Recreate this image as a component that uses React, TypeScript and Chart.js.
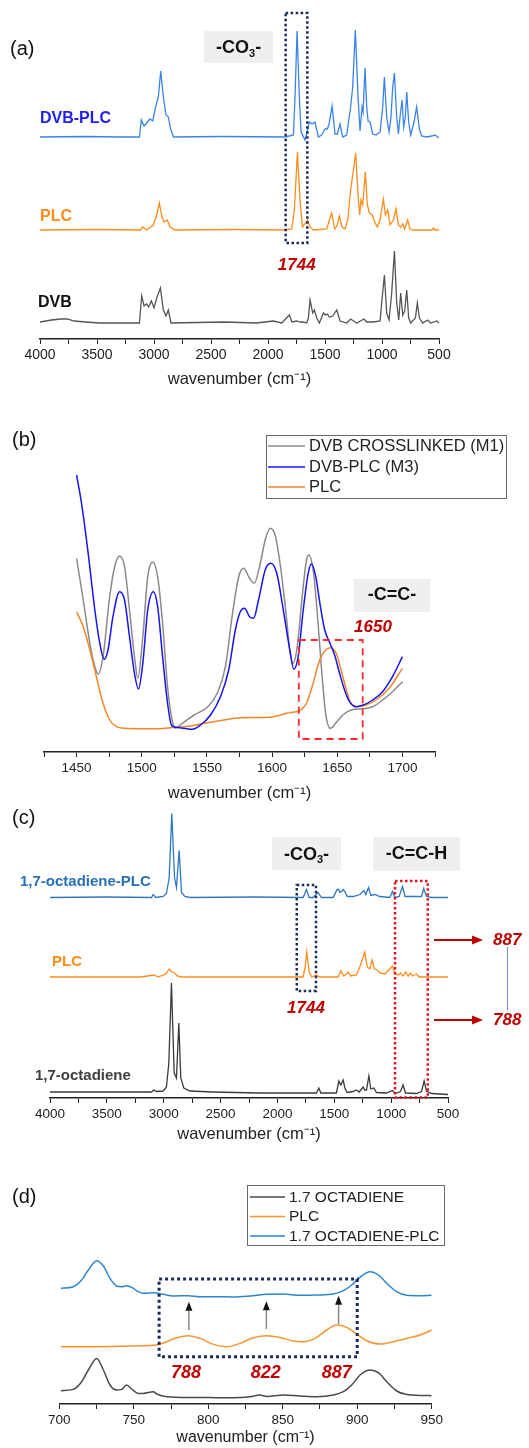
import React, { useEffect, useRef } from 'react';
import { Chart, registerables } from 'chart.js';

Chart.register(...registerables);

const FONT = '"Liberation Sans", Arial, Helvetica, sans-serif';
const AXIS_TITLE = 'wavenumber (cm\u207B\u00B9)';

type Pt = [number, number];

// ---------------- Panel (a): wavenumber, intensity above baseline (a.u.) ----------------
const aDvbPlc: Pt[] = [
  [4000, 0], [3600, 0.5], [3300, 0], [3128, 0], [3111, 17], [3087, 11], [3064, 14], [3035, 18], [3011, 16],
  [2982, 32], [2962, 40], [2941, 66], [2918, 40], [2895, 22], [2874, 20], [2854, 8], [2830, 0], [2400, 0.5],
  [1850, 0], [1777, 2], [1763, 40], [1745, 106], [1725, 40], [1710, 5], [1675, -3], [1637, 15], [1614, 13],
  [1588, 15], [1558, 0], [1529, 2], [1500, 8], [1479, 8], [1462, 14], [1438, 31], [1412, 3], [1392, 3],
  [1368, 13], [1345, 0], [1310, 2], [1275, 30], [1257, 50], [1234, 107], [1210, 40], [1193, 6], [1175, 30],
  [1166, 25], [1149, 69], [1134, 30], [1122, 16], [1105, 15], [1082, 3], [1052, 2], [1017, 5], [994, 30],
  [979, 60], [959, 20], [938, 5], [921, 20], [906, 50], [891, 64], [871, 20], [856, 3], [842, 20], [824, 37],
  [810, 10], [795, 20], [783, 45], [766, 15], [748, 2], [719, 15], [696, 30], [672, 8], [652, 1], [608, 0],
  [564, 1], [535, 2], [500, -1],
];
const aPlc: Pt[] = [
  [4000, 0], [3500, 0.5], [3120, 0], [3099, 3], [3064, 0], [3006, 5], [2976, 15], [2953, 27], [2930, 13],
  [2912, 8], [2883, 10], [2859, 3], [2815, 0], [2300, 0.5], [1865, 0], [1792, 1], [1769, 20], [1742, 78],
  [1719, 30], [1698, 3], [1652, 10], [1631, 3], [1602, 0], [1485, 1], [1462, 10], [1441, 17], [1415, 1],
  [1392, 5], [1374, 14], [1351, 3], [1324, 1], [1301, 10], [1275, 40], [1251, 60], [1231, 77], [1210, 35],
  [1196, 15], [1184, 30], [1169, 25], [1146, 58], [1128, 25], [1111, 17], [1084, 15], [1061, 7], [1041, 3],
  [1017, 10], [988, 31], [970, 15], [950, 20], [929, 5], [900, 10], [877, 21], [856, 5], [836, 3], [818, 6],
  [801, 1], [775, 10], [754, 1], [725, 0], [560, 0], [550, 2], [535, 0], [500, 0],
];
const aDvb: Pt[] = [
  [4000, 1], [3900, 3], [3820, 4], [3760, 4], [3700, 2], [3600, 1], [3474, 0], [3128, 0], [3108, 27],
  [3087, 17], [3064, 19], [3047, 16], [3023, 22], [3000, 15], [2976, 25], [2944, 35], [2918, 13], [2895, 7],
  [2874, 13], [2851, 0], [2392, 1], [2100, 0], [1953, 2], [1880, 0], [1813, 8], [1790, 1], [1748, 2],
  [1719, 1], [1690, 1], [1660, 0], [1646, 5], [1631, 23], [1608, 10], [1593, 13], [1573, 5], [1549, 0],
  [1514, 10], [1497, 8], [1479, 9], [1462, 6], [1432, 7], [1397, 13], [1368, 2], [1310, 0], [1275, 4],
  [1222, 0], [1158, 4], [1134, 1], [1076, 1], [1017, 2], [1003, 20], [979, 48], [959, 10], [938, 3],
  [915, 30], [891, 72], [871, 20], [853, 3], [836, 30], [818, 8], [801, 12], [783, 33], [766, 5], [748, 0],
  [707, 5], [690, 20], [672, 5], [643, 0], [599, 3], [573, 0], [520, 2], [500, 0],
];
const aOffsets = [202, 109, 16]; // DVB-PLC, PLC, DVB stacking offsets

// ---------------- Panel (b): absorbance-like (a.u.) ----------------
const bDvbM1: Pt[] = [
  [1450, 201.7], [1455.1, 160], [1460.2, 116.7], [1464, 93.3], [1466.5, 86], [1470.3, 103.3], [1475.4, 163.3],
  [1479.2, 193.3], [1483, 204], [1486.8, 193.3], [1490.6, 150], [1494.4, 103.3], [1497, 81.7], [1500.8, 123.3],
  [1504.6, 183.3], [1508.4, 198], [1512.2, 183.3], [1516, 136.7], [1519.8, 73.3], [1522.8, 43.3], [1525.4, 31.7],
  [1531.2, 36.7], [1540.1, 45], [1550.3, 52.7], [1557.9, 66.7], [1564.2, 93.3], [1569.3, 143.3], [1574.4, 183.3],
  [1578.2, 191.7], [1582.7, 181.7], [1586.3, 176.7], [1590.4, 193.3], [1594.7, 220], [1598.5, 231.7],
  [1602.3, 225], [1606.1, 196.7], [1610.7, 146.7], [1613.7, 108.3], [1616.2, 96.7], [1619.3, 113.3],
  [1623.1, 163.3], [1626.4, 200], [1628.2, 205], [1631.5, 190], [1634.5, 150], [1637.8, 93.3], [1641.1, 46.7],
  [1644.7, 31.7], [1648.7, 36.7], [1654.3, 45], [1660.7, 50], [1669.5, 51.3], [1677.2, 53.3], [1684.8, 60],
  [1692.4, 68.3], [1700, 78.3],
];
const bDvbPlcM3: Pt[] = [
  [1450, 285], [1453.8, 256.7], [1458.9, 206.7], [1464, 150], [1467.8, 116.7], [1471.1, 100.7], [1474.1, 110],
  [1477.9, 143.3], [1483, 168.3], [1486.8, 160], [1490.6, 123.3], [1494.4, 86.7], [1497.5, 71], [1500.8, 96.7],
  [1504.6, 150], [1508.9, 168.3], [1512.2, 153.3], [1516, 103.3], [1519.8, 56.7], [1522.8, 35], [1526.1, 32.7],
  [1532.5, 31.7], [1538.8, 30.7], [1545.2, 35], [1552.8, 45], [1560.4, 63.3], [1566.7, 90], [1571.8, 130],
  [1575.6, 148.3], [1578.9, 151.7], [1582.7, 143.3], [1585.8, 141.7], [1589.6, 160], [1594.7, 190],
  [1599, 196.7], [1603.6, 186.7], [1608.6, 150], [1613.2, 113.3], [1616.7, 90.7], [1620, 103.3], [1623.9, 150],
  [1627.7, 186.7], [1630.2, 196], [1633.5, 183.3], [1637.1, 153.3], [1640.4, 130], [1644.2, 117.3],
  [1648, 105], [1651.8, 86.7], [1655.6, 70], [1659.4, 58.3], [1664, 53.3], [1669.5, 54.7], [1677.2, 60],
  [1684.8, 68.3], [1692.4, 83.3], [1700, 103.3],
];
const bPlc: Pt[] = [
  [1450, 148.3], [1455.1, 133.3], [1460.2, 110], [1465.2, 83.3], [1470.3, 56.7], [1475.4, 40], [1480.5, 33.3],
  [1486.8, 31.7], [1499.5, 31.3], [1512.2, 31.3], [1524.9, 32.7], [1537.6, 34], [1550.3, 37.3], [1562.9, 40],
  [1575.6, 42.3], [1598.5, 42.7], [1611.2, 46.7], [1622.6, 50.7], [1626.4, 56.7], [1631.5, 76.7], [1636.5, 100],
  [1641.1, 110], [1644.7, 112.3], [1649.2, 106.7], [1654.3, 83.3], [1659.4, 60], [1664.5, 53.3], [1672.1, 55],
  [1679.7, 60], [1689.8, 71.7], [1700, 91.7],
];

// ---------------- Panel (c) ----------------
const cOctPlc: Pt[] = [
  [4000, 0], [3500, 0.5], [3107, 0], [3093, 3], [3069, 0], [3005, 1], [2976, 4], [2952, 20], [2929, 84],
  [2905, 20], [2888, 10], [2864, 47], [2844, 5], [2814, 1], [2770, 0], [2200, 0.5], [1774, 0], [1745, 8],
  [1721, 0], [1686, 0], [1642, 5], [1613, 0], [1510, 0], [1475, 8], [1460, 8], [1450, 5], [1437, 6],
  [1422, 8], [1402, 5], [1387, 1], [1334, 1], [1275, 3], [1240, 7], [1223, 3], [1199, 10], [1179, 2],
  [1144, 3], [1100, 1], [1012, 0], [988, 6], [968, 0], [930, 1], [900, 11], [877, 1], [807, 1], [733, 1],
  [713, 9], [689, 1], [645, 0], [500, 0],
];
const cPlc: Pt[] = [
  [4000, 0], [3200, 0], [3085, 2], [3050, 0], [2981, 3], [2952, 8], [2929, 5], [2902, 4], [2882, 1],
  [2844, 0], [1774, 0], [1756, 10], [1742, 25], [1721, 5], [1698, 0], [1657, 2], [1630, 0], [1466, 0],
  [1443, 6], [1416, 1], [1393, 3], [1375, 5], [1358, 1], [1305, 2], [1276, 10], [1246, 20], [1232, 25],
  [1211, 10], [1188, 8], [1167, 17], [1147, 8], [1123, 7], [1100, 4], [1056, 3], [1012, 8], [988, 11],
  [968, 3], [938, 2], [918, 4], [895, 1], [871, 5], [850, 1], [830, 4], [812, 1], [777, 3], [754, 0], [500, 0],
];
const cOct: Pt[] = [
  [4000, 1], [3500, 1], [3107, 1], [3087, 3], [3064, 1.5], [3005, 2], [2976, 6], [2955, 30], [2932, 110],
  [2908, 20], [2888, 15], [2867, 70], [2850, 15], [2823, 5], [2770, 2], [2565, 1], [2155, 0], [1657, 0],
  [1636, 5], [1618, 0], [1481, 0], [1460, 12], [1443, 8], [1422, 13], [1407, 5], [1387, 0.5], [1334, 1.5],
  [1305, 3], [1281, 1], [1246, 6], [1232, 3], [1217, 3], [1196, 17], [1179, 4], [1152, 5], [1129, 0.5],
  [1041, 0], [988, 2.5], [965, -0.5], [918, 1.5], [895, 8], [874, 0], [777, -0.5], [733, 1.5], [710, 12],
  [689, 2], [645, -0.5], [500, -1.5],
];
const cOffsets = [200.5, 121, 5]; // octadiene-PLC, PLC, octadiene

// ---------------- Panel (d) ----------------
const dOct: Pt[] = [
  [701.1, 6], [709.4, 7.3], [715, 15], [719.5, 26.7], [725.1, 38.3], [729.6, 26.7], [734, 11.7], [738.5, 6.7],
  [741.9, 7.3], [745.2, 11.7], [748.6, 7.7], [753, 3.3], [756.4, 3.3], [763.1, 5], [765.4, 2.7], [772.1, 0],
  [786.6, -0.7], [794.5, -0.7], [805.6, -1], [816.8, -1], [828, 0], [834.7, 1.7], [839.2, 0.3], [850.4, 1.7],
  [861.6, 0.7], [872.8, 0], [884, 1.7], [890.7, 5], [896.3, 11.7], [901.9, 21.7], [908.6, 26.7], [914.2, 24],
  [919.8, 15], [926.5, 5.7], [933.2, 2.3], [942.2, 1.3], [950, 1],
];
const dPlc: Pt[] = [
  [701.1, 0], [725, 0], [748.6, 0.7], [765.4, 1.7], [772.1, 5], [778.8, 9], [786.6, 11], [794.5, 8.3],
  [803.4, 2.3], [812.4, 0], [821.3, 3.3], [830.3, 9], [839.2, 11], [848.2, 9.3], [857.1, 5.7], [863.8, 5],
  [871.7, 8.3], [879.5, 16.7], [886.2, 21.7], [892.9, 19.3], [899.6, 12.7], [906.3, 6], [915.3, 2.7],
  [924.3, 5], [933.2, 8.3], [942.2, 11.7], [950, 16.7],
];
const dOctPlc: Pt[] = [
  [701.1, 7.7], [709.4, 9.3], [715, 16], [719.5, 26], [725.1, 35.3], [729.6, 30], [734, 17.7], [738.5, 10],
  [741.9, 9.3], [745.2, 10.3], [748.6, 8.7], [753, 4.3], [756.4, 2.7], [763.1, 3.3], [769.8, 1.7], [776.5, 0],
  [786.6, 0.3], [794.5, -0.7], [805.6, -0.7], [816.8, -1], [828, 0], [839.2, 1.7], [850.4, 2], [861.6, 0.7],
  [872.8, 1], [884, 2], [890.7, 5.3], [896.3, 11], [901.9, 18.7], [908.6, 24.3], [914.2, 21], [919.8, 12.7],
  [926.5, 4.3], [933.2, 0.7], [942.2, 0.3], [950, 0.7],
];
const dOffsets = [7.3, 57.3, 108]; // octadiene, PLC, octadiene-PLC

// ---------------- ticks ----------------
const ticksAC = [4000, 3750, 3500, 3250, 3000, 2750, 2500, 2250, 2000, 1750, 1500, 1250, 1000, 750, 500];
const labelsAC = [4000, 3500, 3000, 2500, 2000, 1500, 1000, 500];
const ticksB = [1425, 1450, 1475, 1500, 1525, 1550, 1575, 1600, 1625, 1650, 1675, 1700, 1725];
const labelsB = [1450, 1500, 1550, 1600, 1650, 1700];
const ticksD = [700, 725, 750, 775, 800, 825, 850, 875, 900, 925, 950];
const labelsD = [700, 750, 800, 850, 900, 950];

// ---------------- helpers ----------------
const toXY = (pts: Pt[], off = 0) => pts.map(([x, y]) => ({ x, y: y + off }));

function ds(label: string, pts: Pt[], off: number, color: string, width: number, smooth: boolean, order = 0) {
  return {
    label,
    data: toXY(pts, off),
    borderColor: color,
    backgroundColor: color,
    borderWidth: width,
    pointRadius: 0,
    fill: false,
    tension: 0,
    cubicInterpolationMode: smooth ? 'monotone' : 'default',
    order,
  };
}

function xAxis(o: { min: number; max: number; reverse: boolean; ticks: number[]; labels: number[]; tickSize: number; titleSize: number; height: number; titlePad: number }) {
  return {
    type: 'linear',
    min: o.min,
    max: o.max,
    reverse: o.reverse,
    afterBuildTicks: (s: any) => {
      s.ticks = o.ticks.map((v) => ({ value: v }));
    },
    afterFit: (s: any) => {
      s.height = o.height;
    },
    ticks: {
      autoSkip: false,
      maxRotation: 0,
      minRotation: 0,
      padding: 3,
      color: '#222',
      font: { family: FONT, size: o.tickSize },
      callback: (v: number) => (o.labels.includes(v) ? String(v) : ''),
    },
    grid: { drawOnChartArea: false, drawTicks: true, tickLength: 5, color: '#222', lineWidth: 1 },
    border: { display: true, color: '#222', width: 1.5 },
    title: {
      display: true,
      text: AXIS_TITLE,
      color: '#222',
      font: { family: FONT, size: o.titleSize },
      padding: { top: 0, bottom: o.titlePad },
    },
  };
}

function baseOptions(padding: any, x: any, yMin: number, yMax: number) {
  return {
    responsive: false,
    maintainAspectRatio: false,
    animation: false,
    events: [],
    layout: { padding },
    plugins: { legend: { display: false }, tooltip: { enabled: false }, title: { display: false } },
    scales: { x, y: { display: false, min: yMin, max: yMax } },
  };
}

function txt(ctx: CanvasRenderingContext2D, s: string, x: number, y: number, font: string, color: string, align: CanvasTextAlign = 'center') {
  ctx.save();
  ctx.font = font;
  ctx.fillStyle = color;
  ctx.textAlign = align;
  ctx.textBaseline = 'middle';
  ctx.fillText(s, x, y);
  ctx.restore();
}

function strokeBox(ctx: CanvasRenderingContext2D, x0: number, y0: number, x1: number, y1: number, color: string, lw: number, dash: number[]) {
  ctx.save();
  ctx.strokeStyle = color;
  ctx.lineWidth = lw;
  ctx.setLineDash(dash);
  ctx.lineCap = 'butt';
  ctx.strokeRect(Math.min(x0, x1), Math.min(y0, y1), Math.abs(x1 - x0), Math.abs(y1 - y0));
  ctx.restore();
}

function grayBox(ctx: CanvasRenderingContext2D, x0: number, y0: number, x1: number, y1: number) {
  ctx.save();
  ctx.fillStyle = '#efefef';
  ctx.fillRect(Math.min(x0, x1), Math.min(y0, y1), Math.abs(x1 - x0), Math.abs(y1 - y0));
  ctx.restore();
}

function co3(ctx: CanvasRenderingContext2D, cx: number, cy: number) {
  const big = `bold 18px ${FONT}`;
  const small = `bold 11px ${FONT}`;
  ctx.save();
  ctx.font = big;
  const w1 = ctx.measureText('-CO').width;
  const w3 = ctx.measureText('-').width;
  ctx.font = small;
  const w2 = ctx.measureText('3').width;
  let x = cx - (w1 + w2 + w3) / 2;
  const base = cy + 6.4;
  ctx.fillStyle = '#111';
  ctx.textAlign = 'left';
  ctx.textBaseline = 'alphabetic';
  ctx.font = big;
  ctx.fillText('-CO', x, base);
  x += w1;
  ctx.font = small;
  ctx.fillText('3', x, base + 3.5);
  x += w2;
  ctx.font = big;
  ctx.fillText('-', x, base);
  ctx.restore();
}

function arrow(ctx: CanvasRenderingContext2D, x0: number, y0: number, x1: number, y1: number, shaft: string, head: string, lw: number, hl: number, hw: number) {
  const ang = Math.atan2(y1 - y0, x1 - x0);
  const bx = x1 - Math.cos(ang) * hl;
  const by = y1 - Math.sin(ang) * hl;
  ctx.save();
  ctx.strokeStyle = shaft;
  ctx.lineWidth = lw;
  ctx.beginPath();
  ctx.moveTo(x0, y0);
  ctx.lineTo(bx, by);
  ctx.stroke();
  ctx.fillStyle = head;
  ctx.beginPath();
  ctx.moveTo(x1, y1);
  ctx.lineTo(bx + Math.sin(ang) * hw / 2, by - Math.cos(ang) * hw / 2);
  ctx.lineTo(bx - Math.sin(ang) * hw / 2, by + Math.cos(ang) * hw / 2);
  ctx.closePath();
  ctx.fill();
  ctx.restore();
}

function drawLegend(chart: any, box: number[], rows: number[], lx0: number, lx1: number, tx: number, size: number) {
  const ctx: CanvasRenderingContext2D = chart.ctx;
  ctx.save();
  ctx.strokeStyle = '#6a6a6a';
  ctx.lineWidth = 1;
  ctx.strokeRect(box[0] + 0.5, box[1] + 0.5, box[2] - box[0], box[3] - box[1]);
  chart.data.datasets.forEach((d: any, i: number) => {
    ctx.strokeStyle = d.borderColor;
    ctx.lineWidth = 1.5;
    ctx.beginPath();
    ctx.moveTo(lx0, rows[i]);
    ctx.lineTo(lx1, rows[i]);
    ctx.stroke();
    txt(ctx, d.label, tx, rows[i] + 0.5, `${size}px ${FONT}`, '#222', 'left');
  });
  ctx.restore();
}

const scalers = (chart: any) => ({
  X: (v: number) => chart.scales.x.getPixelForValue(v),
  Y: (v: number) => chart.scales.y.getPixelForValue(v),
});

const RED = '#c00000';
const NAVY = '#1b2a5e';

// ---------------- panel configs ----------------
function configA() {
  return {
    type: 'line',
    data: {
      datasets: [
        ds('DVB-PLC', aDvbPlc, aOffsets[0], '#3a84e8', 1.3, false),
        ds('PLC', aPlc, aOffsets[1], '#ff8c1a', 1.3, false),
        ds('DVB', aDvb, aOffsets[2], '#555555', 1.3, false),
      ],
    },
    options: baseOptions(
      { left: 40, right: 90, top: 0, bottom: 0 },
      xAxis({ min: 500, max: 4000, reverse: true, ticks: ticksAC, labels: labelsAC, tickSize: 14, titleSize: 16.5, height: 56, titlePad: 6 }),
      0,
      339,
    ),
    plugins: [
      {
        id: 'annA',
        beforeDatasetsDraw(chart: any) {
          const { X, Y } = scalers(chart);
          grayBox(chart.ctx, X(2561), Y(308), X(1956), Y(276));
        },
        afterDatasetsDraw(chart: any) {
          const ctx = chart.ctx;
          const { X, Y } = scalers(chart);
          txt(ctx, '(a)', 10, 49, `20px ${FONT}`, '#111', 'left');
          txt(ctx, 'DVB-PLC', X(4000), Y(220), `bold 16px ${FONT}`, '#1e1ef0', 'left');
          txt(ctx, 'PLC', X(4000), Y(122), `bold 16px ${FONT}`, '#ff8c1a', 'left');
          txt(ctx, 'DVB', X(4000) - 2, Y(36), `bold 16px ${FONT}`, '#111', 'left');
          co3(ctx, X(2258), Y(292));
          strokeBox(ctx, X(1845), Y(326), X(1655), Y(96), NAVY, 2.5, [2.5, 2.5]);
          txt(ctx, '1744', X(1748), Y(74), `italic bold 17px ${FONT}`, RED);
        },
      },
    ],
  };
}

function configB() {
  return {
    type: 'line',
    data: {
      datasets: [
        ds('DVB CROSSLINKED (M1)', bDvbM1, 0, '#8a8a8a', 1.5, true, 3),
        ds('DVB-PLC (M3)', bDvbPlcM3, 0, '#1515f0', 1.5, true, 1),
        ds('PLC', bPlc, 0, '#f0882a', 1.5, true, 2),
      ],
    },
    options: baseOptions(
      { left: 44, right: 94, top: 0, bottom: 0 },
      xAxis({ min: 1425, max: 1725, reverse: false, ticks: ticksB, labels: labelsB, tickSize: 13.5, titleSize: 16.5, height: 58, titlePad: 7 }),
      8,
      340,
    ),
    plugins: [
      {
        id: 'annB',
        beforeDatasetsDraw(chart: any) {
          const { X, Y } = scalers(chart);
          grayBox(chart.ctx, X(1662.9), Y(181), X(1721.2), Y(148));
        },
        afterDatasetsDraw(chart: any) {
          const ctx = chart.ctx;
          const { X, Y } = scalers(chart);
          txt(ctx, '(b)', 12, 20, `20px ${FONT}`, '#111', 'left');
          drawLegend(chart, [266, 15, 506, 78], [26, 47, 67], 268, 305, 309, 16.5);
          txt(ctx, '-C=C-', X(1692), Y(164.5), `bold 18px ${FONT}`, '#111');
          txt(ctx, '1650', X(1677.4), Y(133), `italic bold 17px ${FONT}`, RED);
          strokeBox(ctx, X(1620.5), Y(120), X(1669.5), Y(21), '#ff2a2a', 1.8, [7, 5]);
        },
      },
    ],
  };
}

function configC() {
  return {
    type: 'line',
    data: {
      datasets: [
        ds('1,7-octadiene-PLC', cOctPlc, cOffsets[0], '#2e78c0', 1.3, false),
        ds('PLC', cPlc, cOffsets[1], '#ff8c1a', 1.3, false),
        ds('1,7-octadiene', cOct, cOffsets[2], '#3a3a3a', 1.3, false),
      ],
    },
    options: baseOptions(
      { left: 50, right: 81, top: 0, bottom: 0 },
      xAxis({ min: 500, max: 4000, reverse: true, ticks: ticksAC, labels: labelsAC, tickSize: 13.5, titleSize: 16.5, height: 52, titlePad: 6 }),
      0,
      293,
    ),
    plugins: [
      {
        id: 'annC',
        beforeDatasetsDraw(chart: any) {
          const { X, Y } = scalers(chart);
          grayBox(chart.ctx, X(2048), Y(261), X(1441), Y(228));
          grayBox(chart.ctx, X(1159), Y(261), X(394), Y(227));
        },
        afterDatasetsDraw(chart: any) {
          const ctx = chart.ctx;
          const { X, Y } = scalers(chart);
          const r = chart.chartArea.right;
          txt(ctx, '(c)', 12, 13, `20px ${FONT}`, '#111', 'left');
          txt(ctx, '1,7-octadiene-PLC', X(4000) - 30, Y(216), `bold 15px ${FONT}`, '#2a70b8', 'left');
          txt(ctx, 'PLC', X(4000) + 2, Y(136), `bold 15px ${FONT}`, '#ff8c1a', 'left');
          txt(ctx, '1,7-octadiene', X(4000) - 15, Y(22), `bold 15px ${FONT}`, '#404040', 'left');
          co3(ctx, X(1744), Y(244.5));
          txt(ctx, '-C=C-H', X(777), Y(244), `bold 18px ${FONT}`, '#111');
          strokeBox(ctx, X(1830), Y(213), X(1661), Y(107), NAVY, 2.5, [2.5, 2.5]);
          strokeBox(ctx, X(966), Y(217), X(678), Y(0.5), '#e0141e', 2.5, [2.5, 2.5]);
          txt(ctx, '1744', X(1749), Y(90), `italic bold 17px ${FONT}`, RED);
          arrow(ctx, r - 14, Y(158), r + 35, Y(158), RED, RED, 2, 11, 9);
          arrow(ctx, r - 14, Y(78), r + 35, Y(78), RED, RED, 2, 11, 9);
          txt(ctx, '887', r + 45, Y(158), `italic bold 17px ${FONT}`, RED, 'left');
          txt(ctx, '788', r + 45, Y(78), `italic bold 17px ${FONT}`, RED, 'left');
          ctx.save();
          ctx.strokeStyle = '#6b96d6';
          ctx.lineWidth = 1;
          ctx.beginPath();
          ctx.moveTo(r + 59.5, Y(151));
          ctx.lineTo(r + 59.5, Y(88));
          ctx.stroke();
          ctx.restore();
        },
      },
    ],
  };
}

function configD() {
  const arrowsD: [number, number, number][] = [[787, 74, 102.3], [839, 75, 102.8], [887.5, 80, 108.3]];
  return {
    type: 'line',
    data: {
      datasets: [
        ds('1.7 OCTADIENE', dOct, dOffsets[0], '#4a4a4a', 1.5, true),
        ds('PLC', dPlc, dOffsets[1], '#f7962e', 1.5, true),
        ds('1.7 OCTADIENE-PLC', dOctPlc, dOffsets[2], '#2c86d0', 1.5, true),
      ],
    },
    options: baseOptions(
      { left: 59.3, right: 97.3, top: 0, bottom: 0 },
      xAxis({ min: 700, max: 950, reverse: false, ticks: ticksD, labels: labelsD, tickSize: 13.5, titleSize: 16, height: 44, titlePad: 0.5 }),
      0,
      244,
    ),
    plugins: [
      {
        id: 'annD',
        afterDatasetsDraw(chart: any) {
          const ctx = chart.ctx;
          const { X, Y } = scalers(chart);
          txt(ctx, '(d)', 12, 37, `20px ${FONT}`, '#111', 'left');
          drawLegend(chart, [247, 25, 444, 85], [37, 56.5, 76], 250, 285, 289, 15.5);
          strokeBox(ctx, X(767), Y(125), X(900), Y(47.3), NAVY, 3, [3, 3]);
          arrowsD.forEach(([w, y0, y1]) => arrow(ctx, X(w), Y(y0), X(w), Y(y1), '#888888', '#111', 1.5, 9, 7));
          txt(ctx, '788', X(785), Y(31.3), `italic bold 18px ${FONT}`, RED);
          txt(ctx, '822', X(838.6), Y(31.3), `italic bold 18px ${FONT}`, RED);
          txt(ctx, '887', X(886.2), Y(31.3), `italic bold 18px ${FONT}`, RED);
        },
      },
    ],
  };
}

function Panel({ top, height, make }: { top: number; height: number; make: () => any }) {
  const ref = useRef<HTMLCanvasElement>(null);
  useEffect(() => {
    if (!ref.current) return;
    const chart = new Chart(ref.current, make());
    return () => chart.destroy();
  }, []);
  return (
    <canvas
      ref={ref}
      width={529}
      height={height}
      style={{ position: 'absolute', left: 0, top, width: 529, height, display: 'block' }}
    />
  );
}

export default function App() {
  return (
    <div style={{ position: 'absolute', left: 0, top: 0, width: 529, height: 1448, background: '#ffffff', overflow: 'hidden' }}>
      <Panel top={0} height={395} make={configA} />
      <Panel top={420} height={390} make={configB} />
      <Panel top={805} height={345} make={configC} />
      <Panel top={1160} height={288} make={configD} />
    </div>
  );
}
